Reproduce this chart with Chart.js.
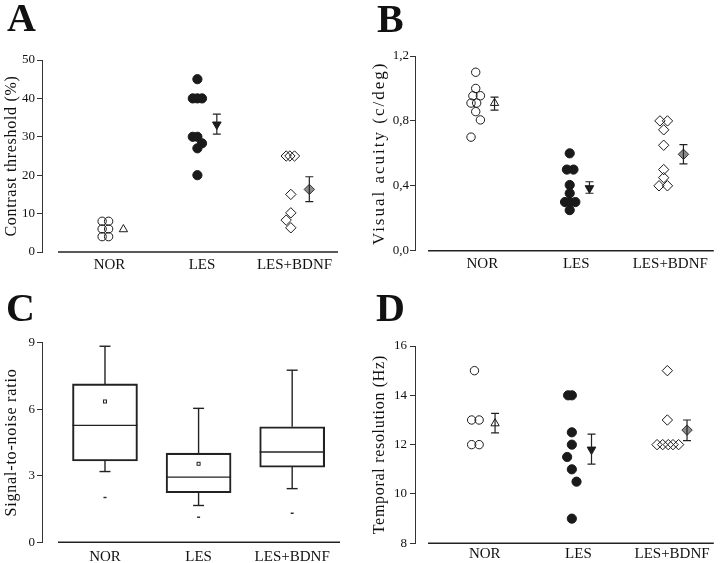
<!DOCTYPE html>
<html>
<head>
<meta charset="utf-8">
<title>Visual performance: NOR, LES, LES+BDNF</title>
<script src="https://cdn.jsdelivr.net/npm/chart.js@4.4.1/dist/chart.umd.min.js"></script>
<style>
  body { margin: 0; background: #fff; }
  #wrap { position: relative; width: 720px; height: 563px; overflow: hidden; }
  canvas { position: absolute; }
  .tag { position: absolute; font: bold 40px "Liberation Serif", "Times New Roman", serif; line-height: 40px; color: #111; }
</style>
</head>
<body>
<div id="wrap">
  <canvas id="chartA" width="360" height="280" style="left:0;top:0"></canvas>
  <canvas id="chartB" width="360" height="280" style="left:360px;top:0"></canvas>
  <canvas id="chartC" width="360" height="283" style="left:0;top:280px"></canvas>
  <canvas id="chartD" width="360" height="283" style="left:360px;top:280px"></canvas>
  <div class="tag" style="left:7px;top:-2px">A</div>
  <div class="tag" style="left:377px;top:-1px">B</div>
  <div class="tag" style="left:6px;top:288px">C</div>
  <div class="tag" style="left:376px;top:288px">D</div>
</div>
<script>
const categories = ['NOR', 'LES', 'LES+BDNF'];

// A - contrast threshold (%), each animal as [x position, value]
const contrastNor = [[0.92, 8], [0.99, 8], [0.92, 6], [0.99, 6], [0.92, 4], [0.99, 4]];
const contrastLes = [[1.95, 45], [1.90, 40], [1.95, 40], [2.00, 40], [1.90, 30], [1.95, 30], [2.00, 28.3], [1.95, 27], [1.95, 20]];
const contrastBdnf = [[2.91, 25], [2.95, 25], [3.00, 25], [2.96, 15], [2.96, 10.2], [2.91, 8.3], [2.96, 6.3]];
const contrastMeanX = [1.15, 2.16, 3.16];
const contrastMean = [5.9, 33.2, 16.3];
const contrastLo = [null, 30.7, 13.1];
const contrastHi = [null, 35.9, 19.6];

// B - visual acuity (c/deg)
const acuityNor = [[0.93, 1.10], [0.93, 1.00], [0.90, 0.955], [0.98, 0.955], [0.88, 0.91], [0.94, 0.91], [0.93, 0.857], [0.98, 0.806], [0.88, 0.70]];
const acuityLes = [[1.93, 0.60], [1.90, 0.50], [1.97, 0.50], [1.93, 0.405], [1.93, 0.354], [1.88, 0.30], [1.93, 0.30], [1.99, 0.30], [1.93, 0.25]];
const acuityBdnf = [[2.89, 0.80], [2.97, 0.80], [2.93, 0.745], [2.93, 0.65], [2.93, 0.50], [2.93, 0.45], [2.88, 0.40], [2.97, 0.40]];
const acuityMeanX = [1.13, 2.14, 3.14];
const acuityMean = [0.91, 0.385, 0.594];
const acuityLo = [0.867, 0.354, 0.535];
const acuityHi = [0.946, 0.425, 0.654];

// C - signal-to-noise ratio, box plot stats
const snrQ1 = [3.67, 2.24, 3.39];
const snrMedian = [5.27, 2.94, 4.07];
const snrQ3 = [7.14, 4.02, 5.21];
const snrWhiskerLo = [3.19, 1.66, 2.42];
const snrWhiskerHi = [8.84, 6.04, 7.76];
const snrMean = [6.35, 3.54, null];
const snrMin = [2.02, 1.13, 1.31];

// D - temporal resolution (Hz)
const temporalNor = [[0.89, 15], [0.86, 13], [0.94, 13], [0.86, 12], [0.94, 12]];
const temporalLes = [[1.89, 14], [1.93, 14], [1.93, 12.5], [1.93, 12], [1.88, 11.5], [1.93, 11], [1.98, 10.5], [1.93, 9]];
const temporalBdnf = [[2.95, 15], [2.95, 13], [2.84, 12], [2.90, 12], [2.96, 12], [3.01, 12], [3.07, 12]];
const temporalMeanX = [1.11, 2.14, 3.16];
const temporalMean = [12.86, 11.8, 12.59];
const temporalLo = [12.48, 11.21, 12.16];
const temporalHi = [13.27, 12.43, 13.0];

const serif = '"Liberation Serif", "Times New Roman", serif';
Chart.defaults.font.family = serif;
const ink = '#1a1a1a';
const clear = 'rgba(0,0,0,0)';

// marker styles for the animal groups and the group means
const groupStyles = [
  { pointStyle: 'circle', pointRadius: 4.2, backgroundColor: clear, borderColor: ink, borderWidth: 1 },
  { pointStyle: 'circle', pointRadius: 4.6, backgroundColor: ink, borderColor: ink, borderWidth: 1 },
  { pointStyle: 'rectRot', pointRadius: 5.2, backgroundColor: clear, borderColor: ink, borderWidth: 1 }
];
const meanStyles = [
  { pointStyle: 'triangle', pointRadius: 4.8, backgroundColor: clear, borderColor: ink, borderWidth: 1 },
  { pointStyle: 'triangle', pointRadius: 5, pointRotation: 180, backgroundColor: ink, borderColor: ink, borderWidth: 1 },
  { pointStyle: 'rectRot', pointRadius: 5.2, backgroundColor: '#8c8c8c', borderColor: '#333', borderWidth: 1 }
];

// x baseline that starts a little right of the y axis, and spaced axis titles
function framePlugin(gap, spacing) {
  return {
    id: 'frame',
    beforeDraw(chart) { chart.ctx.letterSpacing = spacing + 'px'; },
    beforeDatasetsDraw(chart) {
      const { ctx, chartArea: a } = chart;
      ctx.letterSpacing = '0px';
      ctx.save();
      ctx.strokeStyle = '#222';
      ctx.lineWidth = 1.5;
      ctx.beginPath();
      ctx.moveTo(a.left + gap, a.bottom);
      ctx.lineTo(a.right, a.bottom);
      ctx.stroke();
      ctx.restore();
    }
  };
}

function errorBarPlugin(xs, lo, hi) {
  return {
    id: 'errorBars',
    afterDatasetsDraw(chart) {
      const { ctx, scales: { x, y } } = chart;
      ctx.save();
      ctx.strokeStyle = '#222';
      ctx.lineWidth = 1.2;
      xs.forEach((xv, i) => {
        if (lo[i] == null) return;
        const px = x.getPixelForValue(xv);
        const p1 = y.getPixelForValue(lo[i]);
        const p2 = y.getPixelForValue(hi[i]);
        ctx.beginPath();
        ctx.moveTo(px, p1); ctx.lineTo(px, p2);
        ctx.moveTo(px - 4, p1); ctx.lineTo(px + 4, p1);
        ctx.moveTo(px - 4, p2); ctx.lineTo(px + 4, p2);
        ctx.stroke();
      });
      ctx.restore();
    }
  };
}

const boxExtras = {
  id: 'boxExtras',
  afterDatasetsDraw(chart) {
    const { ctx, scales: { x, y } } = chart;
    const bars = chart.getDatasetMeta(0).data;
    const line = (x1, y1, x2, y2) => { ctx.beginPath(); ctx.moveTo(x1, y1); ctx.lineTo(x2, y2); ctx.stroke(); };
    ctx.save();
    ctx.strokeStyle = '#222';
    ctx.fillStyle = '#222';
    ctx.lineWidth = 1.4;
    categories.forEach((c, i) => {
      const cx = x.getPixelForValue(i + 1);
      const half = bars[i].width / 2;
      const med = y.getPixelForValue(snrMedian[i]);
      line(cx - half, med, cx + half, med);
      const q3 = y.getPixelForValue(snrQ3[i]);
      const hi = y.getPixelForValue(snrWhiskerHi[i]);
      line(cx, q3, cx, hi);
      line(cx - 5.5, hi, cx + 5.5, hi);
      const q1 = y.getPixelForValue(snrQ1[i]);
      const lo = y.getPixelForValue(snrWhiskerLo[i]);
      line(cx, q1, cx, lo);
      line(cx - 5.5, lo, cx + 5.5, lo);
      if (snrMean[i] != null) {
        const m = y.getPixelForValue(snrMean[i]);
        ctx.lineWidth = 1;
        ctx.strokeRect(cx - 1.5, m - 1.5, 3, 3);
        ctx.lineWidth = 1.4;
      }
      const mn = y.getPixelForValue(snrMin[i]);
      ctx.fillRect(cx - 1.5, mn - 0.7, 3, 1.4);
    });
    ctx.restore();
  }
};

function axes(p) {
  return {
    x: {
      type: 'linear', min: p.xMin, max: p.xMax, offset: false,
      grid: { display: false, drawTicks: false },
      border: { display: false },
      afterBuildTicks: s => { s.ticks = categories.map((c, i) => ({ value: i + 1 })); },
      afterFit: s => { s.height = p.xHeight; },
      ticks: {
        z: 1, padding: p.labelPad, autoSkip: false, maxRotation: 0, color: '#111',
        font: { family: serif, size: 15 },
        callback: v => categories[Math.round(v) - 1]
      }
    },
    y: {
      type: 'linear', min: p.yMin, max: p.yMax,
      afterFit: s => { s.width = p.yWidth; },
      grid: { drawOnChartArea: false, drawTicks: true, tickLength: 5, color: '#333', lineWidth: 1 },
      border: { color: '#333', width: 1 },
      ticks: { z: 1, stepSize: p.step, padding: p.tickPad, color: '#111', font: { family: serif, size: 13 }, callback: p.fmt },
      title: {
        display: true, text: p.title, color: '#111',
        font: { family: serif, size: p.titleSize }, padding: { top: p.titlePad, bottom: 0 }
      }
    }
  };
}

function baseOptions(p) {
  return {
    responsive: false,
    animation: false,
    events: [],
    layout: { padding: { left: 0, top: p.top, right: p.right, bottom: p.bottom } },
    plugins: { legend: { display: false }, tooltip: { enabled: false } },
    scales: axes(p)
  };
}

function toPoints(arr) { return arr.map(d => ({ x: d[0], y: d[1] })); }

function scatterPanel(id, groups, meanX, mean, lo, hi, p) {
  const datasets = groups.map((g, i) => Object.assign({ data: toPoints(g) }, groupStyles[i]));
  mean.forEach((m, i) => {
    datasets.push(Object.assign({ data: [{ x: meanX[i], y: m }] }, meanStyles[i]));
  });
  new Chart(document.getElementById(id), {
    type: 'scatter',
    data: { datasets },
    options: baseOptions(p),
    plugins: [framePlugin(p.gap, p.spacing), errorBarPlugin(meanX, lo, hi)]
  });
}

const comma = v => v.toFixed(1).replace('.', ',');
const plain = v => String(v);

scatterPanel('chartA', [contrastNor, contrastLes, contrastBdnf], contrastMeanX, contrastMean, contrastLo, contrastHi, {
  top: 60, right: 22, bottom: 0, xHeight: 28, yWidth: 42, tickPad: 2, labelPad: 4,
  title: 'Contrast threshold (%)', titleSize: 16, titlePad: 2.4, spacing: 0.7, gap: 16,
  xMin: 0.27, xMax: 3.47, yMin: 0, yMax: 50, step: 10, fmt: plain
});

scatterPanel('chartB', [acuityNor, acuityLes, acuityBdnf], acuityMeanX, acuityMean, acuityLo, acuityHi, {
  top: 56, right: 3, bottom: 1.3, xHeight: 28, yWidth: 55, tickPad: 1, labelPad: 4,
  title: 'Visual acuity (c/deg)', titleSize: 17, titlePad: 9.8, spacing: 2, gap: 13,
  xMin: 0.284, xMax: 3.463, yMin: 0, yMax: 1.2, step: 0.4, fmt: comma
});

// C - box plot: floating bars give the boxes, the plugin adds median, whiskers, mean, min
const snrOpts = {
  top: 62.7, right: 20, bottom: 0, xHeight: 20.7, yWidth: 42, tickPad: 2, labelPad: 6,
  title: 'Signal-to-noise ratio', titleSize: 16, titlePad: 2.4, spacing: 0.8, gap: 16,
  xMin: 0.327, xMax: 3.511, yMin: 0, yMax: 9, step: 3, fmt: plain
};
new Chart(document.getElementById('chartC'), {
  type: 'bar',
  data: {
    datasets: [{
      data: categories.map((c, i) => ({ x: i + 1, y: [snrQ1[i], snrQ3[i]] })),
      backgroundColor: clear,
      borderColor: '#222',
      borderWidth: 1.4,
      borderSkipped: false,
      barThickness: 65
    }]
  },
  options: baseOptions(snrOpts),
  plugins: [framePlugin(snrOpts.gap, snrOpts.spacing), boxExtras]
});

scatterPanel('chartD', [temporalNor, temporalLes, temporalBdnf], temporalMeanX, temporalMean, temporalLo, temporalHi, {
  top: 66, right: 5, bottom: 0, xHeight: 19.7, yWidth: 55, tickPad: 3, labelPad: 2,
  title: 'Temporal resolution (Hz)', titleSize: 16, titlePad: 10.4, spacing: 0.7, gap: 13,
  xMin: 0.255, xMax: 3.446, yMin: 8, yMax: 16, step: 2, fmt: plain
});
</script>
</body>
</html>
